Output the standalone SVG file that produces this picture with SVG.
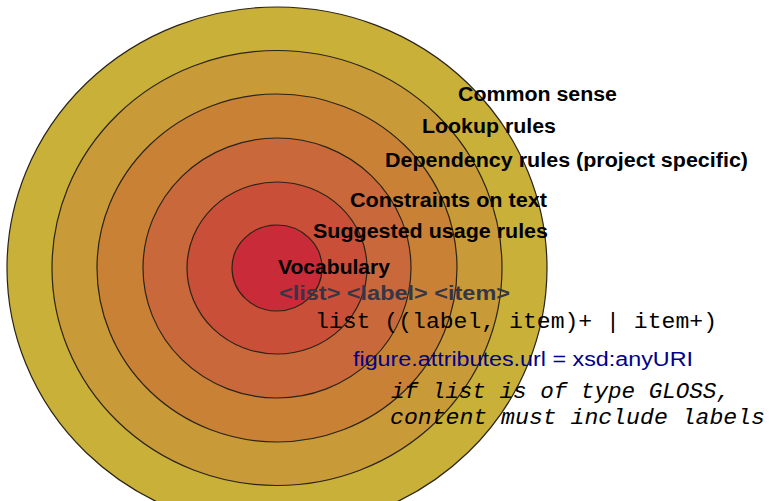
<svg xmlns="http://www.w3.org/2000/svg" width="771" height="501" viewBox="0 0 771 501">
<style>
.ring{stroke:#2a2418;stroke-width:1.2}
.lbl{font-family:"Liberation Sans",Arial,sans-serif;font-weight:bold;font-size:19.5px;fill:#000}
.tags{font-family:"Liberation Sans",Arial,sans-serif;font-weight:bold;font-size:20px;fill:#363646}
.mono{font-family:"Liberation Mono","Courier New",monospace;font-size:22px;fill:#000}
.ital{font-family:"Liberation Mono","Courier New",monospace;font-style:italic;font-size:22px;fill:#000}
.uri{font-family:"Liberation Sans",Arial,sans-serif;font-size:20px;fill:#00008c}
</style>
<rect width="771" height="501" fill="#fff"/>
<g id="rings">
<g id="ring-common-sense"><ellipse class="ring" cx="277" cy="268" rx="270" ry="261" fill="#c9b038"/></g>
<g id="ring-lookup"><ellipse class="ring" cx="277" cy="268" rx="225" ry="217.5" fill="#c99b38"/></g>
<g id="ring-dependency"><ellipse class="ring" cx="277" cy="268" rx="180" ry="174" fill="#c98136"/></g>
<g id="ring-constraints"><ellipse class="ring" cx="277" cy="268" rx="134" ry="130" fill="#c9683a"/></g>
<g id="ring-suggested"><ellipse class="ring" cx="277" cy="268" rx="90" ry="86" fill="#c94f38"/></g>
<g id="ring-vocabulary"><ellipse class="ring" cx="277" cy="268" rx="45" ry="43" fill="#c92c38"/></g>
</g>
<g id="connectors"></g>
<g id="labels">
<text class="lbl" x="458" y="101" textLength="159" lengthAdjust="spacingAndGlyphs">Common sense</text>
<text class="lbl" x="422" y="133" textLength="134" lengthAdjust="spacingAndGlyphs">Lookup rules</text>
<text class="lbl" x="385" y="167" textLength="363" lengthAdjust="spacingAndGlyphs">Dependency rules (project specific)</text>
<text class="lbl" x="350" y="207" textLength="197" lengthAdjust="spacingAndGlyphs">Constraints on text</text>
<text class="lbl" x="313" y="238" textLength="235" lengthAdjust="spacingAndGlyphs">Suggested usage rules</text>
<text class="lbl" x="278" y="274" textLength="112" lengthAdjust="spacingAndGlyphs">Vocabulary</text>
<text class="tags" x="279" y="300" textLength="231" lengthAdjust="spacingAndGlyphs">&lt;list&gt; &lt;label&gt; &lt;item&gt;</text>
<text class="mono" x="315" y="328" textLength="402" lengthAdjust="spacingAndGlyphs">list ((label, item)+ | item+)</text>
<text class="uri" x="353" y="366" textLength="340" lengthAdjust="spacingAndGlyphs">figure.attributes.url = xsd:anyURI</text>
<text class="ital" x="391" y="398" textLength="339" lengthAdjust="spacingAndGlyphs">if list is of type GLOSS,</text>
<text class="ital" x="390" y="424" textLength="375" lengthAdjust="spacingAndGlyphs">content must include labels</text>
</g>
</svg>
